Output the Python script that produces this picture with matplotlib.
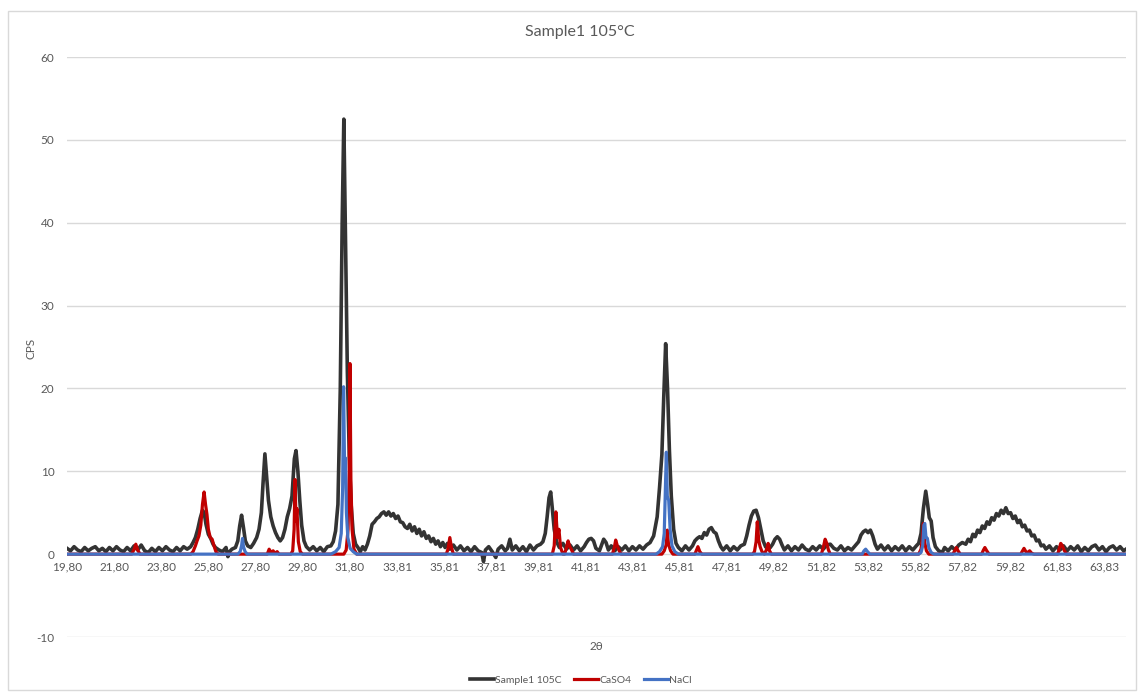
import matplotlib
matplotlib.use("Agg")
import matplotlib.pyplot as plt
from matplotlib.patches import Rectangle

plt.rcParams['font.family'] = ['Lato', 'DejaVu Sans']
plt.rcParams['axes.unicode_minus'] = False

# Sample1 105C
sample_2theta = [
    19.80, 19.95, 20.10, 20.25, 20.40, 20.55, 20.70, 20.85, 21.00, 21.15, 21.30, 21.45,
    21.60, 21.75, 21.90, 22.05, 22.20, 22.35, 22.50, 22.65, 22.80, 22.95, 23.10, 23.25,
    23.40, 23.55, 23.70, 23.85, 24.00, 24.15, 24.30, 24.45, 24.60, 24.75, 24.90,
    25.05, 25.15, 25.25, 25.35, 25.45, 25.55, 25.62, 25.70, 25.80, 25.90, 26.00, 26.10,
    26.25, 26.40, 26.55, 26.63, 26.70, 26.80, 26.95, 27.05, 27.13, 27.21, 27.29, 27.37,
    27.47, 27.60, 27.72, 27.85, 27.95, 28.05, 28.12, 28.20, 28.27, 28.35, 28.45, 28.55,
    28.65, 28.75, 28.85, 28.95, 29.05, 29.15, 29.25, 29.35, 29.45, 29.52, 29.60, 29.68,
    29.76, 29.86, 29.96, 30.10, 30.25, 30.40, 30.55, 30.70, 30.85, 31.00, 31.10, 31.20,
    31.30, 31.40, 31.48, 31.55, 31.62, 31.70, 31.78, 31.86, 31.95, 32.05, 32.15, 32.25,
    32.35, 32.45, 32.55, 32.65, 32.75, 32.85, 32.95, 33.05, 33.15, 33.25, 33.35, 33.45,
    33.55, 33.65, 33.75, 33.85, 33.95, 34.05, 34.15, 34.25, 34.35, 34.45, 34.55, 34.65,
    34.75, 34.85, 34.95, 35.05, 35.15, 35.25, 35.35, 35.45, 35.55, 35.65, 35.75, 35.85,
    35.95, 36.05, 36.20, 36.35, 36.50, 36.65, 36.80, 36.95, 37.10, 37.25, 37.40, 37.48,
    37.56, 37.70, 37.85, 38.00, 38.10, 38.25, 38.40, 38.50, 38.60, 38.70, 38.85, 39.00,
    39.15, 39.30, 39.45, 39.60, 39.75, 39.90, 40.00, 40.10, 40.18, 40.26, 40.33, 40.40,
    40.48, 40.58, 40.70, 40.85, 41.00, 41.15, 41.30, 41.45, 41.60, 41.75, 41.85, 41.95,
    42.05, 42.15, 42.25, 42.40, 42.50, 42.58, 42.68, 42.78, 42.90, 43.05, 43.20, 43.35,
    43.50, 43.65, 43.80, 43.95, 44.10, 44.25, 44.40, 44.55, 44.70, 44.85, 44.95, 45.05,
    45.13, 45.21, 45.29, 45.37, 45.45, 45.55, 45.65, 45.75, 45.90, 46.05, 46.20, 46.35,
    46.45, 46.55, 46.65, 46.75, 46.85, 46.95, 47.05, 47.15, 47.25, 47.35, 47.45, 47.55,
    47.65, 47.80, 47.95, 48.10, 48.25, 48.40, 48.55, 48.65, 48.75, 48.85, 48.95, 49.05,
    49.15, 49.25, 49.35, 49.45, 49.55, 49.65, 49.75, 49.85, 49.95, 50.05, 50.15, 50.25,
    50.40, 50.55, 50.70, 50.85, 51.00, 51.15, 51.30, 51.45, 51.60, 51.75, 51.90, 52.05,
    52.20, 52.35, 52.50, 52.65, 52.80, 52.95, 53.10, 53.25, 53.40, 53.50, 53.60, 53.70,
    53.80, 53.90, 54.00, 54.10, 54.20, 54.35, 54.50, 54.65, 54.80, 54.95, 55.10, 55.25,
    55.40, 55.55, 55.70, 55.85, 55.95, 56.05, 56.15, 56.25, 56.33, 56.40, 56.48, 56.56,
    56.66, 56.80, 56.95, 57.05, 57.20, 57.35, 57.50, 57.65, 57.80, 57.95, 58.05, 58.15,
    58.25, 58.35, 58.45, 58.55, 58.65, 58.75, 58.85, 58.95, 59.05, 59.15, 59.25, 59.35,
    59.45, 59.55, 59.65, 59.75, 59.85, 59.95, 60.05, 60.15, 60.25, 60.35, 60.45, 60.55,
    60.65, 60.75, 60.85, 60.95, 61.05, 61.15, 61.25, 61.35, 61.50, 61.65, 61.80, 61.95,
    62.10, 62.25, 62.40, 62.55, 62.70, 62.85, 63.00, 63.15, 63.30, 63.45, 63.60, 63.75,
    63.90, 64.05, 64.20, 64.35, 64.50, 64.65, 64.75,
]
sample_cps = [
    0.7, 0.4, 0.9, 0.5, 0.3, 0.8, 0.4, 0.7, 0.9, 0.4, 0.7, 0.3,
    0.8, 0.4, 0.9, 0.5, 0.3, 0.8, 0.4, 1.0, 0.5, 1.1, 0.4, 0.2,
    0.7, 0.3, 0.8, 0.4, 0.9, 0.5, 0.3, 0.8, 0.4, 0.9, 0.6,
    0.9, 1.4, 2.0, 3.0, 4.3, 5.3, 5.0, 3.6, 2.4, 1.9, 1.2, 0.8,
    0.5, 0.3, 0.8, -0.3, 0.3, 0.6, 0.8, 1.6, 3.4, 4.7, 3.2, 1.6,
    1.0, 0.8, 1.3, 2.0, 3.0, 5.0, 8.5, 12.1, 9.5, 6.5, 4.5, 3.4,
    2.6, 2.0, 1.6, 2.0, 3.0, 4.5, 5.5, 7.0, 11.5, 12.5, 10.0, 6.5,
    3.5, 1.6, 0.9, 0.5, 0.9, 0.4, 0.8, 0.3, 0.9, 1.0, 1.5, 2.8,
    6.0, 20.0, 40.0, 52.5, 38.0, 22.0, 12.0, 6.0, 2.5, 1.2, 0.8, 0.3,
    0.9, 0.5, 1.2, 2.2, 3.6, 3.9, 4.3, 4.5, 4.9, 5.1, 4.7, 5.1,
    4.6, 4.9, 4.3, 4.6, 3.9, 3.8, 3.3, 3.1, 3.6, 2.8, 3.3, 2.5,
    3.0, 2.2, 2.7, 1.9, 2.2, 1.5, 1.9, 1.2, 1.6, 0.9, 1.4, 0.8,
    1.3, 0.6, 1.1, 0.5, 1.0, 0.4, 0.8, 0.3, 0.9, 0.4, 0.2, -0.9,
    0.5, 0.9, 0.3, -0.4, 0.6, 1.0, 0.4, 0.7, 1.8, 0.5, 1.0, 0.4,
    0.9, 0.3, 1.1, 0.5, 1.0, 1.2, 1.5, 2.5, 4.5, 6.8, 7.5, 5.5,
    3.0, 1.5, 0.8, 1.3, 0.6, 1.1, 0.5, 1.0, 0.4, 0.9, 1.4, 1.8,
    1.9, 1.6, 0.7, 0.4, 1.2, 1.8, 1.4, 0.5, 1.0, 0.4, 0.9, 0.5,
    1.0, 0.4, 0.9, 0.5, 1.0, 0.6, 1.1, 1.4, 2.2, 4.5, 8.0, 12.0,
    19.0, 25.4, 20.0, 12.5, 7.0, 3.0, 1.3, 0.8, 0.4, 1.0, 0.5, 1.0,
    1.6, 1.9, 2.1, 1.9, 2.6, 2.3, 3.0, 3.2, 2.7, 2.5, 1.6, 0.9,
    0.5, 1.0, 0.4, 0.9, 0.5, 1.0, 1.2, 2.2, 3.5, 4.6, 5.2, 5.3,
    4.4, 3.0, 1.6, 0.9, 0.6, 0.8, 1.2, 1.8, 2.1, 1.8, 1.1, 0.5,
    1.0, 0.4, 0.9, 0.5, 1.1, 0.6, 0.4, 0.9, 0.5, 1.0, 0.6, 1.1,
    1.2, 0.7, 0.5, 1.0, 0.4, 0.8, 0.5, 1.0, 1.5, 2.3, 2.7, 2.9,
    2.6, 2.9, 2.2, 1.2, 0.6, 1.1, 0.5, 1.0, 0.4, 0.9, 0.5, 1.0,
    0.4, 0.9, 0.5, 1.0, 1.3, 2.5, 5.5, 7.6, 6.0, 4.4, 4.0, 2.0,
    0.9, 0.4, 0.2, 0.8, 0.4, 0.9, 0.5, 1.1, 1.4, 1.2, 1.8, 1.5,
    2.4, 2.1, 2.9, 2.6, 3.4, 3.1, 3.9, 3.6, 4.4, 4.1, 4.9, 4.6,
    5.3, 4.9, 5.6, 4.9, 5.0, 4.3, 4.6, 3.8, 4.1, 3.3, 3.5, 2.8,
    2.9, 2.2, 2.3, 1.6, 1.7, 1.0, 1.1, 0.6, 1.0, 0.4, 0.9, 0.5,
    1.0, 0.4, 0.9, 0.5, 1.0, 0.3, 0.8, 0.4, 0.9, 1.1, 0.5, 0.9,
    0.3, 0.8, 1.0, 0.5, 0.9, 0.4, 0.6,
]

# CaSO4 reference pattern
caso4_2theta = [
    19.80, 22.55, 22.65, 22.72, 22.80, 22.90,
    25.05, 25.15, 25.25, 25.32, 25.40, 25.48, 25.55, 25.62, 25.68, 25.74, 25.80, 25.88,
    25.96, 26.04, 26.12, 26.22,
    28.30, 28.38, 28.46, 28.55, 28.62, 28.72, 28.80,
    29.30, 29.38, 29.44, 29.48, 29.52, 29.56, 29.62, 29.70, 29.80,
    31.55, 31.65, 31.73, 31.78, 31.81, 31.85, 31.90, 31.98, 32.10,
    35.90, 35.97, 36.05, 36.12, 36.20,
    40.40, 40.48, 40.55, 40.62, 40.68, 40.75, 40.85,
    40.92, 41.00, 41.07, 41.14, 41.22, 41.30,
    42.95, 43.03, 43.09, 43.16, 43.24, 43.32,
    45.05, 45.15, 45.24, 45.28, 45.33, 45.42, 45.52,
    46.45, 46.52, 46.58, 46.66, 46.75,
    48.90, 48.98, 49.05, 49.10, 49.16, 49.22, 49.30, 49.40, 49.50, 49.56, 49.62, 49.70,
    51.82, 51.90, 51.98, 52.05, 52.12, 52.20,
    55.95, 56.05, 56.11, 56.15, 56.20, 56.28, 56.38,
    57.40, 57.48, 57.55, 57.62, 57.72,
    58.62, 58.70, 58.76, 58.84, 58.94,
    60.28, 60.36, 60.42, 60.50, 60.58, 60.66, 60.75, 60.85,
    61.85, 61.92, 61.98, 62.05, 62.12, 62.22,
    64.75,
]
caso4_cps = [
    0.0, 0.0, 0.6, 1.2, 0.5, 0.0,
    0.0, 0.3, 1.0, 1.6, 2.2, 3.5, 6.0, 7.5, 6.0, 4.8, 3.0, 2.0,
    1.8, 1.0, 0.3, 0.0,
    0.0, 0.6, 0.2, 0.4, 0.1, 0.3, 0.0,
    0.0, 0.4, 3.0, 9.0, 4.0, 5.5, 1.5, 0.3, 0.0,
    0.0, 0.5, 3.0, 10.0, 23.0, 9.0, 3.0, 0.6, 0.0,
    0.0, 0.6, 2.0, 0.8, 0.0,
    0.0, 1.0, 5.1, 2.0, 3.0, 0.8, 0.0,
    0.0, 0.8, 1.6, 0.9, 0.5, 0.0,
    0.0, 0.8, 1.7, 1.0, 0.4, 0.0,
    0.0, 0.4, 1.2, 2.9, 1.2, 0.4, 0.0,
    0.0, 0.5, 0.9, 0.3, 0.0,
    0.0, 0.3, 1.5, 3.9, 1.7, 0.9, 0.3, 0.0, 0.6, 1.3, 0.4, 0.0,
    0.0, 0.8, 1.8, 1.3, 0.5, 0.0,
    0.0, 0.6, 2.0, 3.7, 1.5, 0.4, 0.0,
    0.0, 0.4, 0.8, 0.4, 0.0,
    0.0, 0.5, 0.8, 0.4, 0.0,
    0.0, 0.4, 0.7, 0.3, 0.2, 0.4, 0.1, 0.0,
    0.0, 0.7, 1.3, 1.0, 0.5, 0.0,
    0.0,
]

# NaCl reference pattern
nacl_2theta = [
    19.80, 27.05, 27.15, 27.21, 27.25, 27.29, 27.36, 27.45,
    31.00, 31.20, 31.35, 31.44, 31.50, 31.54, 31.58, 31.62, 31.66, 31.72, 31.82, 31.95, 32.10,
    44.80, 44.95, 45.08, 45.15, 45.20, 45.24, 45.28, 45.34, 45.40, 45.48, 45.60, 45.75,
    53.55, 53.63, 53.70, 53.78, 53.88,
    55.95, 56.05, 56.12, 56.17, 56.21, 56.26, 56.32, 56.38, 56.48, 56.60,
    64.75,
]
nacl_cps = [
    0.0, 0.0, 0.3, 1.0, 1.9, 0.9, 0.3, 0.0,
    0.0, 0.3, 0.8, 2.5, 8.0, 20.2, 11.0, 11.6, 5.0, 2.0, 0.7, 0.3, 0.0,
    0.0, 0.3, 0.9, 2.5, 8.0, 12.3, 7.0, 6.5, 3.0, 1.0, 0.3, 0.0,
    0.0, 0.4, 0.6, 0.3, 0.0,
    0.0, 0.2, 1.0, 3.5, 3.7, 2.0, 1.9, 0.8, 0.2, 0.0,
    0.0,
]

x_tick_labels = ["19,80", "21,80", "23,80", "25,80", "27,80", "29,80", "31,80", "33,81",
                 "35,81", "37,81", "39,81", "41,81", "43,81", "45,81", "47,81", "49,82",
                 "51,82", "53,82", "55,82", "57,82", "59,82", "61,83", "63,83"]
y_ticks = [-10, 0, 10, 20, 30, 40, 50, 60]

W, H = 1138, 692
fig = plt.figure(figsize=(W / 100, H / 100), dpi=100)
ax = fig.add_axes([67 / W, 1 - 637 / H, (1126 - 67) / W, (637 - 57) / H])

# chart border
fig.patches.append(Rectangle((8 / W, 2 / H), (1136 - 8) / W, (681 - 2) / H,
                             transform=fig.transFigure, fill=False,
                             edgecolor='#D9D9D9', lw=1))

ax.plot(sample_2theta, sample_cps, color='#333333', lw=2.6, label='Sample1 105C',
        solid_joinstyle='round')
ax.plot(caso4_2theta, caso4_cps, color='#C00000', lw=2.3, label='CaSO4',
        solid_joinstyle='round')
ax.plot(nacl_2theta, nacl_cps, color='#4472C4', lw=2.3, label='NaCl',
        solid_joinstyle='round')

ax.set_xlim(19.80, 64.75)
ax.set_ylim(-10, 60)
ax.set_yticks(y_ticks)
ax.set_xticks([float(s.replace(',', '.')) for s in x_tick_labels])
ax.set_xticklabels(x_tick_labels)
ax.grid(axis='y', color='#D9D9D9', lw=1)
ax.set_axisbelow(True)
for name, sp in ax.spines.items():
    sp.set_visible(False)
ax.spines['bottom'].set_position(('data', 0))
ax.tick_params(axis='both', length=0, labelsize=8.5, labelcolor='#595959')
ax.tick_params(axis='x', pad=5)
ax.tick_params(axis='y', pad=9)

fig.text(580 / W, 1 - 32 / H, 'Sample1 105°C', ha='center', va='center',
         fontsize=11.5, color='#595959')
fig.text(31 / W, 1 - 348 / H, 'CPS', ha='center', va='center', rotation=90,
         fontsize=8.5, color='#595959')
fig.text(596 / W, 1 - 647 / H, '2θ', ha='center', va='center',
         fontsize=8.5, color='#595959')

leg = fig.legend(loc='center', bbox_to_anchor=(581 / W, 1 - 680 / H), ncol=3,
                 frameon=False, fontsize=7.5, handlelength=2.3, handletextpad=0.1,
                 columnspacing=1.2)
for t in leg.get_texts():
    t.set_color('#595959')

fig.savefig('out.png', dpi=100)
